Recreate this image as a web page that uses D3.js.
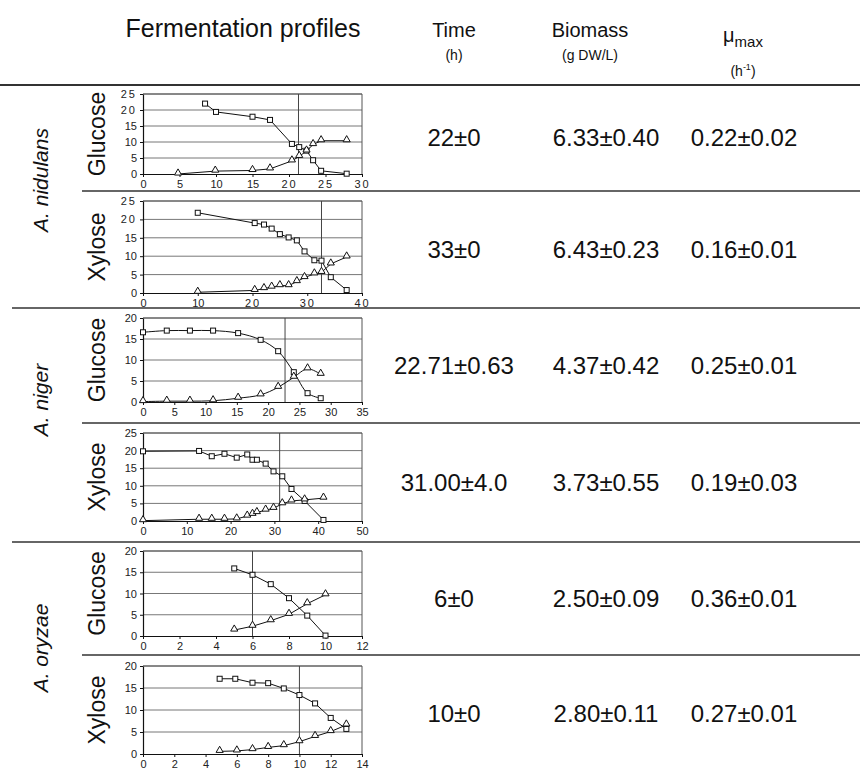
<!DOCTYPE html>
<html>
<head>
<meta charset="utf-8">
<script src="https://cdn.jsdelivr.net/npm/d3@7"></script>
<style>
  body { margin: 0; background: #fff; }
  svg { display: block; font-family: "Liberation Sans", Arial, sans-serif; }
</style>
</head>
<body>
<div id="chart"></div>
<script>
// ---- data ----
const species = ['A. nidulans', 'A. niger', 'A. oryzae']
const sugars = ['Glucose', 'Xylose', 'Glucose', 'Xylose', 'Glucose', 'Xylose']
const timeLabels = ['22±0', '33±0', '22.71±0.63', '31.00±4.0', '6±0', '10±0']
const biomassLabels = ['6.33±0.40', '6.43±0.23', '4.37±0.42', '3.73±0.55', '2.50±0.09', '2.80±0.11']
const muLabels = ['0.22±0.02', '0.16±0.01', '0.25±0.01', '0.19±0.03', '0.36±0.01', '0.27±0.01']

const xMax = [30, 40, 35, 50, 12, 14]
const xStep = [5, 10, 5, 10, 2, 2]
const yMax = [25, 25, 20, 25, 20, 20]
const markTime = [21.3, 32.6, 22.7, 31.2, 6, 10]

// sugar concentration (open squares)
const sugarSeries = [
  [[8.5, 22], [10, 19.4], [15, 17.9], [17.4, 16.9], [20.4, 9.4], [21.4, 8.4], [22.4, 7.3], [23.3, 4.3], [24.4, 1.0], [27.9, 0.1]],
  [[10, 21.8], [20.4, 19], [22.1, 18.6], [23.5, 17.5], [25, 16], [26.6, 15.1], [28.1, 14.3], [29.5, 11.3], [31.3, 8.9], [32.6, 8.8], [34.3, 4.3], [37.2, 0.8]],
  [[0, 16.6], [3.8, 17], [7.5, 17], [11.2, 17], [15.2, 16.4], [18.8, 14.8], [21.6, 12.1], [24.1, 7.1], [26.3, 2.1], [28.4, 0.9]],
  [[0, 19.8], [12.8, 19.9], [15.7, 18.4], [18.6, 19.1], [21.4, 18.0], [23.8, 18.9], [25, 17.4], [26, 17.4], [28, 16.3], [29.8, 14.1], [31.8, 12.7], [33.9, 9.1], [36.9, 5.7], [41.2, 0.3]],
  [[5, 15.9], [6, 14.4], [7, 12.2], [8, 8.9], [9, 4.8], [10, 0.1]],
  [[4.9, 17.1], [5.9, 17.1], [7, 16.2], [8, 16.1], [9, 14.9], [10, 13.4], [11, 11.5], [12, 8.2], [13, 5.7]]
]

// second series (open triangles)
const productSeries = [
  [[4.8, 0], [9.9, 0.9], [15, 1.1], [17.4, 1.6], [20.4, 4.1], [21.4, 5.5], [22.4, 7.2], [23.3, 9.2], [24.4, 10.4], [27.9, 10.4]],
  [[10, 0.2], [20.4, 0.7], [22.1, 1.2], [23.5, 1.6], [25, 2], [26.6, 2], [28.1, 3.1], [29.5, 4.2], [31.3, 5.2], [32.6, 5.6], [34.3, 7.9], [37.2, 9.8]],
  [[0, 0.1], [3.8, 0.2], [7.5, 0.2], [11.2, 0.3], [15.2, 0.9], [18.8, 1.7], [21.6, 3.5], [24.1, 5.9], [26.3, 7.9], [28.4, 6.6]],
  [[0, 0.1], [12.8, 0.5], [15.7, 0.5], [18.6, 0.5], [21.4, 0.6], [23.8, 1.4], [25, 1.9], [26, 2.4], [28, 3.1], [29.8, 3.6], [31.8, 4.9], [33.9, 5.7], [36.9, 6.0], [41.2, 6.5]],
  [[5, 1.4], [6, 2.3], [7, 3.6], [8, 5.1], [9, 7.6], [10, 9.7]],
  [[4.9, 0.6], [6, 0.7], [7, 1.0], [8, 1.5], [9, 1.9], [10, 2.8], [11, 4.0], [12, 5.1], [13, 6.6]]
]

// ---- layout ----
let width = 860
let height = 772

let rowLines = [85, 191, 308, 423, 542, 655, 772]
let plotTop = [94, 201, 318, 433, 551, 666]
let plotBottom = [174, 293, 402, 521, 636, 754]
let speciesY = [180, 400, 648]
let plotLeft = 143
let plotRight = 362
let head = { time: 454, biomass: 590, mu: 743 }
let cols = { time: 454, biomass: 606, mu: 744 }

let svg = d3
  .select('#chart')
  .append('svg')
  .attr('width', width)
  .attr('height', height)

// header
let header = svg.append('g').attr('fill', '#111')
header.append('text').attr('x', 243).attr('y', 37).attr('text-anchor', 'middle')
  .attr('font-size', 25).text('Fermentation profiles')
header.append('text').attr('x', head.time).attr('y', 37).attr('text-anchor', 'middle')
  .attr('font-size', 20).text('Time')
header.append('text').attr('x', head.time).attr('y', 60).attr('text-anchor', 'middle')
  .attr('font-size', 14).text('(h)')
header.append('text').attr('x', head.biomass).attr('y', 37).attr('text-anchor', 'middle')
  .attr('font-size', 20).text('Biomass')
header.append('text').attr('x', head.biomass).attr('y', 60).attr('text-anchor', 'middle')
  .attr('font-size', 14).text('(g DW/L)')

let mu = header.append('text').attr('x', head.mu).attr('y', 42).attr('text-anchor', 'middle').attr('font-size', 20)
mu.append('tspan').text('μ')
mu.append('tspan').attr('font-size', 15).attr('dy', 5).text('max')
let unit = header.append('text').attr('x', head.mu).attr('y', 76).attr('text-anchor', 'middle').attr('font-size', 14)
unit.append('tspan').text('(h')
unit.append('tspan').attr('font-size', 9).attr('dy', -6).text('-1')
unit.append('tspan').attr('dy', 6).text(')')

// table rules
svg.append('line').attr('x1', 0).attr('x2', width).attr('y1', rowLines[0]).attr('y2', rowLines[0])
  .attr('stroke', '#333').attr('stroke-width', 2.2)
rowLines.slice(1, 6).forEach((yy, i) => {
  let speciesBreak = (i % 2 === 1)
  svg.append('line')
    .attr('x1', speciesBreak ? 12 : 82).attr('x2', width)
    .attr('y1', yy).attr('y2', yy)
    .attr('stroke', '#333').attr('stroke-width', 1.6)
})

// species labels
species.forEach((name, i) => {
  svg.append('text')
    .attr('transform', `translate(48, ${speciesY[i]}) rotate(-90)`)
    .attr('text-anchor', 'middle')
    .attr('font-size', 21)
    .attr('font-style', 'italic')
    .attr('fill', '#111')
    .text(name)
})

// each row: sugar label, mini chart, values
sugars.forEach((sugar, i) => {
  let cy = (plotTop[i] + plotBottom[i]) / 2
  let rowMid = (rowLines[i] + rowLines[i + 1]) / 2

  svg.append('text')
    .attr('transform', `translate(105, ${cy}) rotate(-90)`)
    .attr('text-anchor', 'middle')
    .attr('font-size', 23)
    .attr('fill', '#111')
    .text(sugar)

  ;[[cols.time, timeLabels[i]], [cols.biomass, biomassLabels[i]], [cols.mu, muLabels[i]]].forEach(d => {
    svg.append('text')
      .attr('x', d[0]).attr('y', rowMid + 8)
      .attr('text-anchor', 'middle')
      .attr('font-size', 24)
      .attr('fill', '#111')
      .text(d[1])
  })

  let x = d3.scaleLinear().domain([0, xMax[i]]).range([plotLeft, plotRight])
  let y = d3.scaleLinear().domain([0, yMax[i]]).range([plotBottom[i], plotTop[i]])
  let g = svg.append('g')

  // horizontal gridlines
  g.selectAll('.grid')
    .data(d3.range(5, yMax[i] + 1, 5))
    .enter()
    .append('line')
    .attr('x1', plotLeft).attr('x2', plotRight)
    .attr('y1', d => y(d)).attr('y2', d => y(d))
    .attr('stroke', '#777').attr('stroke-width', 1)

  // right / top border
  g.append('path')
    .attr('d', `M${plotLeft},${plotTop[i]}H${plotRight}V${plotBottom[i]}`)
    .attr('fill', 'none').attr('stroke', '#555').attr('stroke-width', 1)

  // marker line at the reported time
  g.append('line')
    .attr('x1', x(markTime[i])).attr('x2', x(markTime[i]))
    .attr('y1', plotTop[i]).attr('y2', plotBottom[i])
    .attr('stroke', '#444').attr('stroke-width', 1)

  let yAxis = g.append('g')
    .attr('transform', `translate(${plotLeft}, 0)`)
    .call(d3.axisLeft(y).tickValues(d3.range(0, yMax[i] + 1, 5)).tickSize(3).tickPadding(3).tickSizeOuter(0))
  let xAxis = g.append('g')
    .attr('transform', `translate(0, ${plotBottom[i]})`)
    .call(d3.axisBottom(x).tickValues(d3.range(0, xMax[i] + 1, xStep[i])).tickSize(3).tickPadding(3).tickSizeOuter(0))

  ;[yAxis, xAxis].forEach(ax => {
    ax.select('.domain').attr('stroke', '#111').attr('stroke-width', 1.2)
    ax.selectAll('.tick line').attr('stroke', '#111')
    ax.selectAll('.tick text')
      .attr('font-size', 11)
      .attr('font-family', '"Liberation Sans", Arial, sans-serif')
      .attr('fill', '#222')
      // the first two panels print two-digit labels with wide spacing (except the 1x ones)
      .style('letter-spacing', d => (i < 2 && d >= 20) ? '2px' : '0px')
  })

  let curve = i === 2 ? d3.curveCatmullRom : d3.curveLinear
  let line = d3.line().x(d => x(d[0])).y(d => y(d[1])).curve(curve)

  ;[sugarSeries[i], productSeries[i]].forEach(series => {
    g.append('path')
      .datum(series)
      .attr('d', line)
      .attr('fill', 'none')
      .attr('stroke', '#111')
      .attr('stroke-width', 1)
  })

  g.selectAll('.sq')
    .data(sugarSeries[i])
    .enter()
    .append('rect')
    .attr('x', d => x(d[0]) - 2.5)
    .attr('y', d => y(d[1]) - 2.5)
    .attr('width', 5)
    .attr('height', 5)
    .attr('fill', '#fff')
    .attr('stroke', '#111')
    .attr('stroke-width', 1)

  let tri = d3.symbol().type(d3.symbolTriangle).size(22)
  g.selectAll('.tri')
    .data(productSeries[i])
    .enter()
    .append('path')
    .attr('d', tri)
    .attr('transform', d => `translate(${x(d[0])}, ${y(d[1]) - 1})`)
    .attr('fill', '#fff')
    .attr('stroke', '#111')
    .attr('stroke-width', 1)
})
</script>
</body>
</html>
